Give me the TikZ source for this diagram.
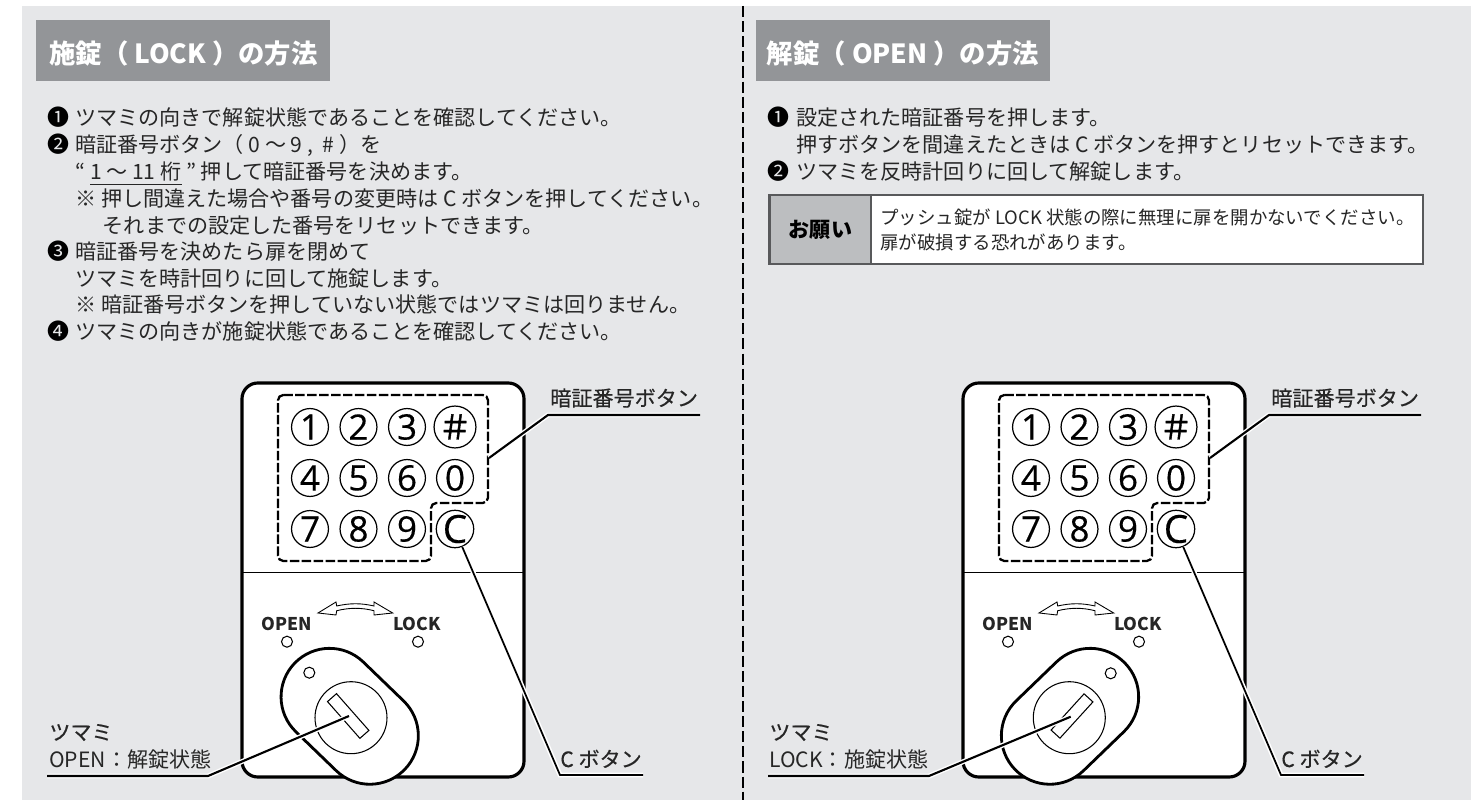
\documentclass[tikz,border=0pt]{standalone}
\usepackage{fontspec}
\setmainfont{Noto Sans CJK JP}
\newfontfamily\latinfont[FakeBold=0.3]{Open Sans}
\newfontfamily\medfont[FakeBold=0.4]{Noto Sans CJK JP}
\newfontfamily\hashfont[FakeBold=1.2]{Noto Sans CJK JP}
\definecolor{panelgray}{HTML}{E6E7E9}
\definecolor{headgray}{HTML}{939598}
\definecolor{notegray}{HTML}{BCBEC0}
\definecolor{edgegray}{HTML}{58595B}
\tikzset{
  bodytxt/.style={anchor=base west, inner sep=0pt, font=\fontsize{12}{14}\selectfont, text=black!85},
  numtxt/.style={anchor=base, inner sep=0pt, font=\fontsize{12.5}{14}\selectfont},
  notetxt/.style={anchor=base west, inner sep=0pt, font=\fontsize{10.5}{12}\selectfont, text=black!85},
  headtxt/.style={text=white, inner sep=0pt, font=\fontsize{15}{16}\bfseries\selectfont},
  keybtn/.style={circle, draw, fill=white, line width=0.7pt, minimum size=21pt, inner sep=0pt, font=\latinfont\fontsize{20}{22}\selectfont},
  dot/.style={draw, line width=0.6pt},
  leader/.style={line width=1.2pt, line join=miter, preaction={draw=white, line width=2.8pt}},
  lbltxt/.style={anchor=base west, inner sep=0pt, font=\fontsize{12}{14}\selectfont, text=black!85},
  lockmark/.style={anchor=center, inner sep=0pt, text=black!85, font=\fontsize{10}{12}\bfseries\selectfont},
}
\begin{document}
\begin{tikzpicture}[x=0.02cm,y=0.02cm]
    \useasboundingbox (0,0) rectangle (1471,-800);
    \fill [panelgray] (22,-6) rectangle (1471,-800);
    \draw [line width=1.4pt, dash pattern=on 6.3pt off 2.3pt] (743,-6) -- (743,-800);
    % headers
    \fill [headgray] (35.5,-20) rectangle (330,-81);
    \node [headtxt] (headlock) at (183.5,-54) {施錠（ LOCK ）の方法};
    \fill [headgray] (755.5,-20) rectangle (1050,-81);
    \node [headtxt] (headopen) at (903,-54) {解錠（ OPEN ）の方法};
    % left steps
    \node [numtxt] (numa) at (58.5,-126) {❶};
    \node [bodytxt] (la) at (75,-126) {ツマミの向きで解錠状態であることを確認してください。};
    \node [numtxt] (numb) at (58.5,-153) {❷};
    \node [bodytxt] (lb) at (75,-153) {暗証番号ボタン（ 0 ～ 9 ,\ \ \# ）を};
    \node [bodytxt] (lc) at (75,-180) {“ \underline{1 ～ 11 桁} ” 押して暗証番号を決めます。};
    \node [bodytxt] (ld) at (75,-207) {※ 押し間違えた場合や番号の変更時は C ボタンを押してください。};
    \node [bodytxt] (le) at (102.5,-233.5) {それまでの設定した番号をリセットできます。};
    \node [numtxt] (numc) at (58.5,-260) {❸};
    \node [bodytxt] (lf) at (75,-260) {暗証番号を決めたら扉を閉めて};
    \node [bodytxt] (lg) at (75,-286.5) {ツマミを時計回りに回して施錠します。};
    \node [bodytxt] (lh) at (75,-313) {※ 暗証番号ボタンを押していない状態ではツマミは回りません。};
    \node [numtxt] (numd) at (58.5,-340) {❹};
    \node [bodytxt] (li) at (75,-340) {ツマミの向きが施錠状態であることを確認してください。};
    % right steps
    \node [numtxt] (nume) at (778,-126) {❶};
    \node [bodytxt] (ra) at (796,-126) {設定された暗証番号を押します。};
    \node [bodytxt] (rb) at (796,-153) {押すボタンを間違えたときは C ボタンを押すとリセットできます。};
    \node [numtxt] (numf) at (778,-180) {❷};
    \node [bodytxt] (rc) at (796,-180) {ツマミを反時計回りに回して解錠します。};
    % note box
    \draw [edgegray, line width=1.2pt, fill=white] (769.5,-195) rectangle (1423,-264);
    \draw [edgegray, line width=1.2pt, fill=notegray] (769.5,-195) rectangle (871,-264);
    \node [inner sep=0pt, font=\fontsize{12}{14}\bfseries\selectfont] (notehead) at (820.5,-230) {お願い};
    \node [notetxt] (notea) at (880,-225) {プッシュ錠が LOCK 状態の際に無理に扉を開かないでください。};
    \node [notetxt] (noteb) at (880,-250) {扉が破損する恐れがあります。};
    % the two lock bodies
    \foreach \dx/\sd in {0/l,721/r} {
      \begin{scope}[shift={(\dx,0)}]
        \draw [line width=1.8pt, fill=white, rounded corners=9pt] (242,-383) rectangle (524,-777);
        \draw [line width=0.5pt] (243,-572) -- (523,-572);
        \draw [line width=1.3pt, dash pattern=on 5.4pt off 1.4pt, rounded corners=3pt]
          (278,-395) -- (488,-395) -- (488,-503) -- (431,-503) -- (431,-561) -- (278,-561) -- cycle;
        \foreach \key/\bx/\by in {1/310/427,2/358.5/427,3/407/427,4/310/478,5/358.5/478,6/407/478,0/455/478,7/310/529,8/358.5/529,9/407/529}
          \node [keybtn] (btn\key\sd) at (\bx,-\by) {\key};
        \node [keybtn, font=\hashfont\fontsize{19}{20}\selectfont] (btnh\sd) at (455,-427) {＃};
        \node [keybtn, font=\latinfont\fontsize{22}{22}\selectfont] (btnC\sd) at (455,-529) {C};
        \draw [line width=0.5pt, fill=white] (318,-613) -- (336,-602) -- (336.7,-606)
          .. controls (350,-603) and (361,-603) .. (374,-606) -- (374,-602) -- (392.7,-613) -- (374,-615) -- (374,-610.7)
          .. controls (361,-607.5) and (350,-607.5) .. (336.7,-610.7) -- (336,-615) -- cycle;
        \node [lockmark] (open\sd) at (287,-624) {OPEN};
        \node [lockmark] (lock\sd) at (417,-624) {LOCK};
        \draw [dot] (287,-641.7) circle (5.5);
        \draw [dot] (418,-641.7) circle (5.5);
        \coordinate (padtip\sd) at (489,-458);
        \coordinate (padmid\sd) at (548,-415);
        \coordinate (padend\sd) at (700,-415);
        \coordinate (cmid\sd) at (560,-775);
        \coordinate (cend\sd) at (643,-775);
        \node [lbltxt, font=\medfont\fontsize{12}{14}\selectfont] (padlbl\sd) at (550,-406) {暗証番号ボタン};
        \node [lbltxt, font=\medfont\fontsize{12}{14}\selectfont] (clbl\sd) at (560,-767) {C ボタン};
      \end{scope}
    }
    % left thumb turn
    \begin{scope}[shift={(349.7,-716.3)}, rotate=-44]
      \draw [line width=1.6pt, fill=white] (-28,48.5) arc (90:270:48.5) -- (28,-48.5) arc (-90:90:48.5) -- cycle;
    \end{scope}
    \draw [dot] (309.3,-672.7) circle (5.5);
    \draw [dot] (351,-717.7) circle (36);
    \draw [dot, shift={(348.2,-716)}, rotate=-48.6] (-24.5,-6) rectangle (24.5,6);
    % right thumb turn
    \begin{scope}[shift={(1070,-716.3)}, rotate=44]
      \draw [line width=1.6pt, fill=white] (-28,48.5) arc (90:270:48.5) -- (28,-48.5) arc (-90:90:48.5) -- cycle;
    \end{scope}
    \draw [dot] (1110.7,-673.3) circle (5.5);
    \draw [dot] (1069.3,-717.7) circle (36);
    \draw [dot, shift={(1072,-716)}, rotate=47.7] (-24.5,-6) rectangle (24.5,6);
    % leaders
    \foreach \sd in {l,r} {
      \draw [leader] (padtip\sd) -- (padmid\sd) -- (padend\sd);
      \draw [leader, line width=1pt] (btnC\sd.-68) -- (cmid\sd) -- (cend\sd);
    }
    \node [lbltxt, font=\medfont\fontsize{12}{14}\selectfont] (turnl) at (49,-740) {ツマミ};
    \node [lbltxt] (statel) at (49,-767) {OPEN：解錠状態};
    \node [lbltxt, font=\medfont\fontsize{12}{14}\selectfont] (turnr) at (769,-740) {ツマミ};
    \node [lbltxt] (stater) at (769,-767) {LOCK：施錠状態};
    \coordinate (keyl) at (349,-716);
    \coordinate (keyr) at (1070.7,-716.7);
    \coordinate (elbl) at (208,-776);
    \coordinate (elbr) at (929,-776);
    \coordinate (endl) at (47,-776);
    \coordinate (endr) at (768,-776);
    \draw [leader] (keyl) -- (elbl) -- (endl);
    \draw [leader] (keyr) -- (elbr) -- (endr);
\end{tikzpicture}
\end{document}
